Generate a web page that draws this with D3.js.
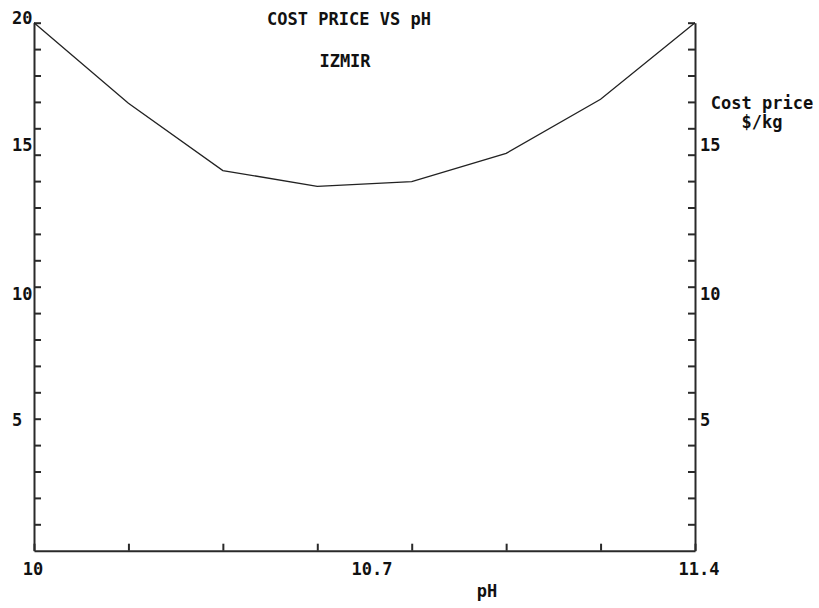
<!DOCTYPE html>
<html><head><meta charset="utf-8">
<script src="https://cdn.jsdelivr.net/npm/d3@7"></script>
<style>
html,body{margin:0;padding:0;background:#fff;}
text{font-family:"DejaVu Sans Mono",monospace;font-weight:bold;fill:#111;}
</style></head>
<body><svg id="c" width="819" height="608"></svg>
<script>
// data
const phValues = [10.0, 10.2, 10.4, 10.6, 10.8, 11.0, 11.2, 11.4];
const costPrice = [20.0, 16.95, 14.4, 13.8, 13.98, 15.05, 17.1, 20.0];
const xTickValues = [10.0, 10.2, 10.4, 10.6, 10.8, 11.0, 11.2, 11.4];
const xTickLabels = ["10", "10.7", "11.4"];
const yTickValues = d3.range(1, 21);
const yLeftLabels = [5, 10, 15, 20];
const yRightLabels = [5, 10, 15];
const title = "COST PRICE VS pH";
const subtitle = "IZMIR";

const svg = d3.select("#c");
const x = d3.scaleLinear().domain([10, 11.4]).range([34, 695]);
const y = d3.scaleLinear().domain([0, 20]).range([550.7, 22.7]);
const axisColor = "#2a2a2a";

function styleAxis(g){
  g.select(".domain").attr("stroke", axisColor).attr("stroke-width", 2);
  g.selectAll(".tick line").attr("stroke", axisColor).attr("stroke-width", 2);
  g.selectAll(".tick text").remove();
}

// left axis (ticks inward)
svg.append("g").attr("transform", `translate(${x(10)},0)`)
  .call(d3.axisRight(y).tickValues(yTickValues).tickSize(7).tickSizeOuter(0))
  .call(styleAxis);
// right axis (ticks inward)
svg.append("g").attr("transform", `translate(${x(11.4)},0)`)
  .call(d3.axisLeft(y).tickValues(yTickValues).tickSize(7).tickSizeOuter(0))
  .call(styleAxis);
// bottom axis (ticks upward)
svg.append("g").attr("transform", `translate(0,${y(0)})`)
  .call(d3.axisTop(x).tickValues(xTickValues).tickSize(7).tickSizeOuter(0))
  .call(styleAxis);

// y labels (pixel offsets mimic original rendering)
const yLabelDy = {5: 1.3, 10: 6.8, 15: -9.7, 20: -4.7};
const fs = 17;
svg.append("g").selectAll("text").data(yLeftLabels).join("text")
  .attr("x", 12).attr("y", d => y(d) + yLabelDy[d])
  .attr("dominant-baseline", "central")
  .style("font-size", fs + "px")
  .text(d => d);
svg.append("g").selectAll("text").data(yRightLabels).join("text")
  .attr("x", 700).attr("y", d => y(d) + yLabelDy[d])
  .attr("dominant-baseline", "central")
  .style("font-size", fs + "px")
  .text(d => d);

// x labels
const xLabelDx = {"10": -1, "10.7": 7.5, "11.4": 4};
svg.append("g").selectAll("text").data(xTickLabels).join("text")
  .attr("x", d => x(+d) + xLabelDx[d]).attr("y", 575)
  .attr("text-anchor", "middle")
  .style("font-size", fs + "px")
  .text(d => d);

// line
svg.append("path").datum(phValues.map((p, i) => [p, costPrice[i]]))
  .attr("fill", "none").attr("stroke", "#222").attr("stroke-width", 1.3)
  .attr("d", d3.line().x(d => x(d[0])).y(d => y(d[1])));

// titles
svg.append("text").attr("x", 349).attr("y", 25).attr("text-anchor", "middle")
  .style("font-size", fs + "px").text(title);
svg.append("text").attr("x", 345).attr("y", 67).attr("text-anchor", "middle")
  .style("font-size", fs + "px").text(subtitle);
svg.append("text").attr("x", 762).attr("y", 109).attr("text-anchor", "middle")
  .style("font-size", fs + "px").text("Cost price");
svg.append("text").attr("x", 762).attr("y", 128).attr("text-anchor", "middle")
  .style("font-size", fs + "px").text("$/kg");
svg.append("text").attr("x", 487).attr("y", 597).attr("text-anchor", "middle")
  .style("font-size", fs + "px").text("pH");
</script></body></html>
